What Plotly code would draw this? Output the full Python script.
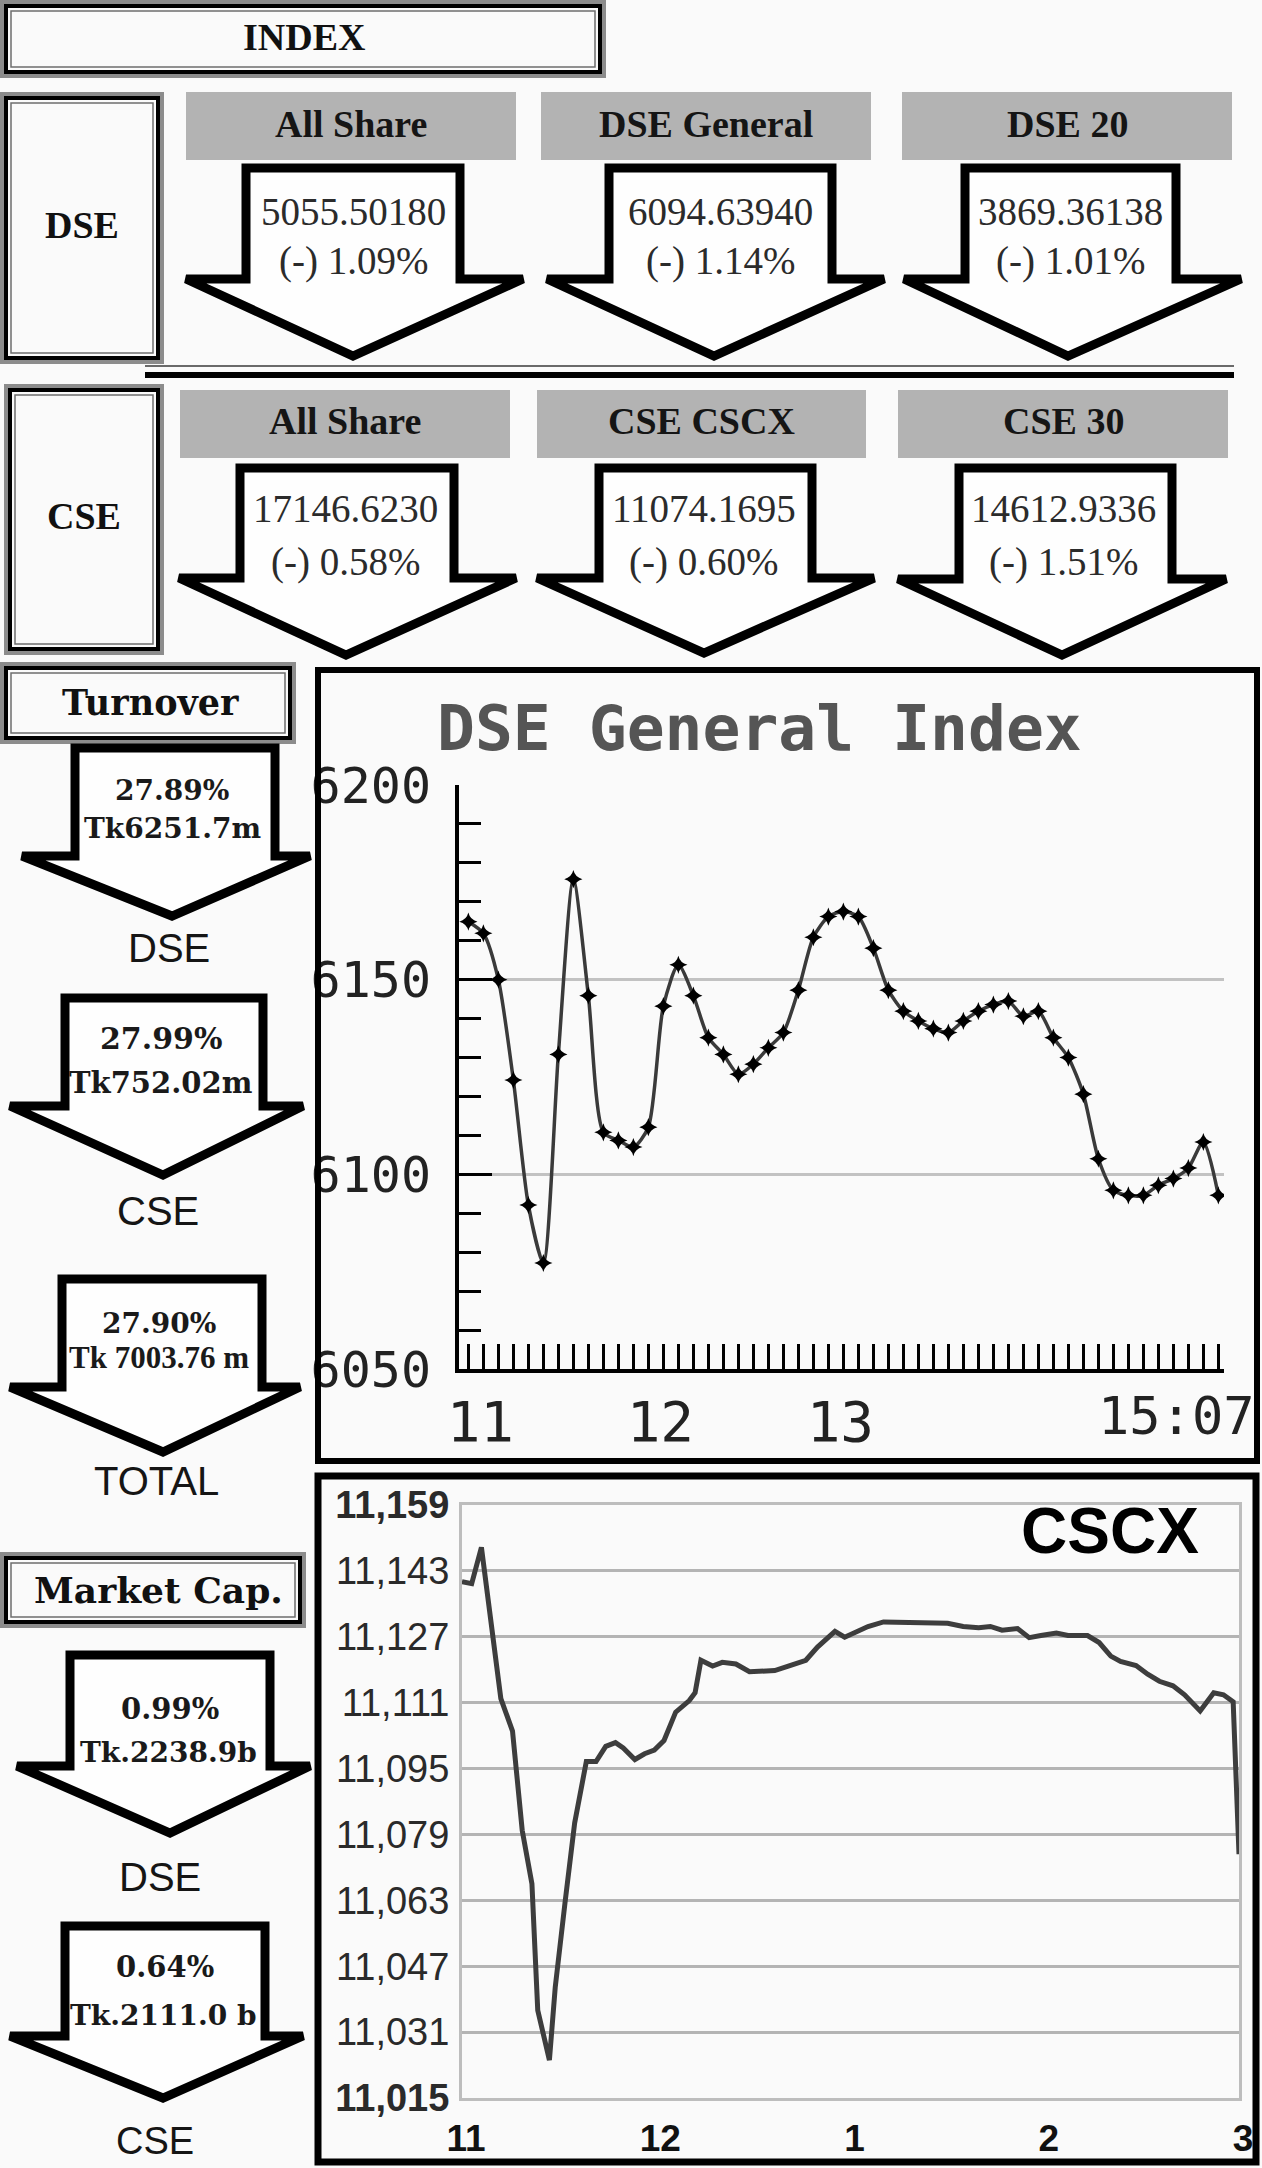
import plotly.graph_objects as go

W, H = 1262, 2168

# ---------------- data ----------------
dse_index_names = ["All Share", "DSE General", "DSE 20"]
dse_index_values = ["5055.50180", "6094.63940", "3869.36138"]
dse_index_changes = ["(-) 1.09%", "(-) 1.14%", "(-) 1.01%"]

cse_index_names = ["All Share", "CSE CSCX", "CSE 30"]
cse_index_values = ["17146.6230", "11074.1695", "14612.9336"]
cse_index_changes = ["(-) 0.58%", "(-) 0.60%", "(-) 1.51%"]

turnover_labels = ["DSE", "CSE", "TOTAL"]
turnover_pct = ["27.89%", "27.99%", "27.90%"]
turnover_amount = ["Tk6251.7m", "Tk752.02m", "Tk 7003.76 m"]

mcap_labels = ["DSE", "CSE"]
mcap_pct = ["0.99%", "0.64%"]
mcap_amount = ["Tk.2238.9b", "Tk.2111.0 b"]

dse_times = ["11:00", "11:05", "11:10", "11:15", "11:20", "11:25", "11:30", "11:35", "11:40", "11:45",
             "11:50", "11:55", "12:00", "12:05", "12:10", "12:15", "12:20", "12:25", "12:30", "12:35",
             "12:40", "12:45", "12:50", "12:55", "13:00", "13:05", "13:10", "13:15", "13:20", "13:25",
             "13:30", "13:35", "13:40", "13:45", "13:50", "13:55", "14:00", "14:05", "14:10", "14:15",
             "14:20", "14:25", "14:30", "14:35", "14:40", "14:45", "14:50", "14:55", "15:00", "15:05",
             "15:10"]
dse_values = [6164.9, 6161.9, 6150.0, 6124.2, 6092.1, 6077.2, 6130.8, 6175.8, 6145.9, 6110.8,
              6108.7, 6107.0, 6112.1, 6143.2, 6153.8, 6145.9, 6135.1, 6130.8, 6125.7, 6128.3,
              6132.5, 6136.4, 6147.3, 6160.9, 6166.2, 6167.5, 6166.2, 6158.1, 6147.3, 6141.9,
              6139.4, 6137.4, 6136.4, 6139.4, 6141.9, 6143.6, 6144.5, 6140.6, 6141.9, 6135.1,
              6130.0, 6120.6, 6104.0, 6095.9, 6094.6, 6094.6, 6097.2, 6098.9, 6101.6, 6108.3,
              6094.6]
dse_y_ticks = [6050, 6100, 6150, 6200]
dse_x_tick_vals = [11, 12, 13]
dse_x_tick_text = ["11", "12", "13"]
dse_stamp = "15:07"
dse_title = "DSE General Index"

cscx_hours = [11.00, 11.05, 11.10, 11.14, 11.20, 11.26, 11.31, 11.36, 11.39, 11.45,
              11.48, 11.53, 11.58, 11.64, 11.69, 11.74, 11.79, 11.83, 11.89, 11.94,
              11.99, 12.04, 12.10, 12.17, 12.20, 12.23, 12.29, 12.34, 12.41, 12.48,
              12.54, 12.61, 12.68, 12.77, 12.83, 12.92, 12.97, 13.02, 13.09, 13.17,
              13.23, 13.31, 13.40, 13.50, 13.58, 13.66, 13.72, 13.78, 13.86, 13.92,
              13.98, 14.06, 14.12, 14.22, 14.28, 14.34, 14.39, 14.47, 14.53, 14.59,
              14.66, 14.72, 14.80, 14.87, 14.92, 14.97, 15.00]
cscx_values = [11140.4, 11139.9, 11148.7, 11134.8, 11112.0, 11104.1, 11080.0, 11067.0, 11036.3, 11024.2,
               11041.9, 11062.3, 11081.8, 11096.7, 11096.7, 11100.4, 11101.3, 11100.0, 11097.2, 11098.6,
               11099.5, 11101.8, 11108.7, 11111.5, 11113.4, 11121.3, 11119.9, 11120.8, 11120.4, 11118.5,
               11118.7, 11118.8, 11119.9, 11121.3, 11124.5, 11128.3, 11126.9, 11128.1, 11129.5, 11130.6,
               11130.6, 11130.3, 11130.3, 11130.3, 11129.5, 11129.2, 11129.5, 11128.6, 11129.0, 11126.8,
               11127.3, 11127.9, 11127.3, 11127.3, 11125.6, 11122.3, 11121.0, 11120.0, 11117.9, 11116.2,
               11115.1, 11112.9, 11109.0, 11113.4, 11112.9, 11111.2, 11074.2]
cscx_y_tick_vals = [11015, 11031, 11047, 11063, 11079, 11095, 11111, 11127, 11143, 11159]
cscx_y_tick_text = ["<b>11,015</b>", "11,031", "11,047", "11,063", "11,079", "11,095",
                    "11,111", "11,127", "11,143", "<b>11,159</b>"]
cscx_x_tick_vals = [11, 12, 13, 14, 15]
cscx_x_tick_text = ["11", "12", "1", "2", "3"]
cscx_title = "CSCX"

# ---------------- helpers ----------------
def px(x):
    return x / W


def py(y):
    return 1 - y / H


fig = go.Figure()
shapes = []
annotations = []


def rect(x0, y0, x1, y1, color, width, fill=None):
    d = dict(type="rect", xref="paper", yref="paper",
             x0=px(x0), x1=px(x1), y0=py(y1), y1=py(y0),
             line=dict(color=color, width=width))
    d["fillcolor"] = fill if fill else "rgba(0,0,0,0)"
    shapes.append(d)


def dbl_box(x0, y0, x1, y1):
    rect(x0 + 2, y0 + 2, x1 - 2, y1 - 2, "#8c8c8c", 4)
    rect(x0 + 6, y0 + 6, x1 - 6, y1 - 6, "#000000", 4)
    rect(x0 + 11, y0 + 11, x1 - 11, y1 - 11, "#6e6e6e", 1.5)


def hline(x0, x1, y, color, width):
    shapes.append(dict(type="line", xref="paper", yref="paper",
                       x0=px(x0), x1=px(x1), y0=py(y), y1=py(y),
                       line=dict(color=color, width=width)))


def arrow(a):
    pts = [(a["sl"], a["top"]), (a["sr"], a["top"]), (a["sr"], a["sh"]), (a["shr"], a["sh"]),
           (a["tx"], a["ty"]), (a["shl"], a["sh"]), (a["sl"], a["sh"])]
    path = "M " + " L ".join(f"{px(x):.5f},{py(y):.5f}" for x, y in pts) + " Z"
    shapes.append(dict(type="path", xref="paper", yref="paper", path=path,
                       fillcolor="#fefefe", line=dict(color="#000000", width=9)))


def text(x, y, s, size, family, color="#111111", weight="normal"):
    annotations.append(dict(x=px(x), y=py(y), xref="paper", yref="paper", text=s,
                            showarrow=False, xanchor="center", yanchor="middle",
                            font=dict(size=size, family=family, color=color, weight=weight)))


SERIF = "Liberation Serif, Times New Roman, serif"
DSERIF = "DejaVu Serif, serif"
SANS = "Liberation Sans, Arial, sans-serif"
MONO = "DejaVu Sans Mono, monospace"

# ---------------- INDEX header ----------------
dbl_box(0, 0, 606, 78)
text(304, 37, "INDEX", 38, SERIF, "#111111", "bold")

# ---------------- DSE row ----------------
dbl_box(0, 92, 164, 364)
text(82, 225, "DSE", 38, SERIF, "#111111", "bold")

row1_headers = [(186, 516), (541, 871), (902, 1232)]
row1_arrows = [
    dict(sl=246, sr=460, top=168, sh=279, shl=186, shr=523, tx=353, ty=356),
    dict(sl=609, sr=832, top=168, sh=279, shl=547, shr=884, tx=714, ty=356),
    dict(sl=965, sr=1176, top=168, sh=279, shl=904, shr=1241, tx=1068, ty=356),
]
for i, (hx0, hx1) in enumerate(row1_headers):
    rect(hx0, 92, hx1, 160, "#b3b3b3", 0, fill="#b3b3b3")
    text((hx0 + hx1) / 2, 124, dse_index_names[i], 38, SERIF, "#151515", "bold")
for i, a in enumerate(row1_arrows):
    arrow(a)
    cx = (a["sl"] + a["sr"]) / 2
    text(cx, 211, dse_index_values[i], 39, SERIF, "#2b2b2b")
    text(cx, 261, dse_index_changes[i], 39, SERIF, "#2b2b2b")

# separator double line
hline(145, 1234, 366, "#6a6a6a", 2)
hline(145, 1234, 375, "#000000", 6)

# ---------------- CSE row ----------------
dbl_box(4, 384, 164, 655)
text(84, 516, "CSE", 38, SERIF, "#111111", "bold")

row2_headers = [(180, 510), (537, 866), (898, 1228)]
row2_arrows = [
    dict(sl=240, sr=454, top=468, sh=578, shl=179, shr=516, tx=346, ty=655),
    dict(sl=599, sr=812, top=468, sh=578, shl=537, shr=874, tx=704, ty=653),
    dict(sl=959, sr=1172, top=468, sh=579, shl=898, shr=1226, tx=1062, ty=655),
]
for i, (hx0, hx1) in enumerate(row2_headers):
    rect(hx0, 390, hx1, 458, "#b3b3b3", 0, fill="#b3b3b3")
    text((hx0 + hx1) / 2, 421, cse_index_names[i], 38, SERIF, "#151515", "bold")
for i, a in enumerate(row2_arrows):
    arrow(a)
    cx = (a["sl"] + a["sr"]) / 2
    text(cx - 2, 508, cse_index_values[i], 39, SERIF, "#2b2b2b")
    text(cx - 2, 562, cse_index_changes[i], 39, SERIF, "#2b2b2b")

# ---------------- Turnover column ----------------
dbl_box(0, 662, 296, 744)
text(150, 702, "Turnover", 35, DSERIF, "#111111", "bold")

turn_arrows = [
    dict(sl=75, sr=275, top=748, sh=856, shl=22, shr=310, tx=172, ty=916),
    dict(sl=65, sr=263, top=998, sh=1106, shl=10, shr=303, tx=163, ty=1175),
    dict(sl=62, sr=262, top=1279, sh=1387, shl=10, shr=300, tx=163, ty=1452),
]
turn_text_y = [(790, 828), (1038, 1083), (1323, 1357)]
turn_label_y = [948, 1211, 1481]
turn_fonts = [(DSERIF, 28, DSERIF, 28), (DSERIF, 30, DSERIF, 29), (DSERIF, 28, SERIF, 31)]
for i, a in enumerate(turn_arrows):
    arrow(a)
    cx = (a["sl"] + a["sr"]) / 2
    f1, s1, f2, s2 = turn_fonts[i]
    text(cx - 3, turn_text_y[i][0], turnover_pct[i], s1, f1, "#1a1a1a", "bold")
    text(cx - 3, turn_text_y[i][1], turnover_amount[i], s2, f2, "#1a1a1a", "bold")
    text(cx - 6, turn_label_y[i], turnover_labels[i], 40, SANS, "#151515")

# ---------------- Market cap column ----------------
dbl_box(0, 1552, 306, 1628)
text(158, 1590, "Market Cap.", 36, DSERIF, "#111111", "bold")

mcap_arrows = [
    dict(sl=70, sr=270, top=1655, sh=1766, shl=17, shr=310, tx=170, ty=1833),
    dict(sl=65, sr=265, top=1926, sh=2036, shl=10, shr=303, tx=163, ty=2098),
]
mcap_text_y = [(1709, 1752), (1967, 2015)]
mcap_label_y = [1877, 2141]
mcap_label_size = [40, 38]
for i, a in enumerate(mcap_arrows):
    arrow(a)
    cx = (a["sl"] + a["sr"]) / 2
    text(cx, mcap_text_y[i][0], mcap_pct[i], 29, DSERIF, "#1a1a1a", "bold")
    text(cx - 2, mcap_text_y[i][1], mcap_amount[i], 28, DSERIF, "#1a1a1a", "bold")
    text(cx - 10, mcap_label_y[i], mcap_labels[i], mcap_label_size[i], SANS, "#151515")

# ---------------- chart boxes ----------------
rect(318, 670, 1257, 1461, "#000000", 6)
rect(318, 1476, 1256, 2162, "#000000", 7)

# ---------------- DSE General Index chart ----------------
dse_x = [int(t[:2]) + int(t[3:]) / 60 for t in dse_times]
fig.add_trace(go.Scatter(
    x=dse_x, y=dse_values, mode="lines+markers", xaxis="x", yaxis="y",
    line=dict(color="#3a3a3a", width=3.5, shape="spline", smoothing=0.7),
    marker=dict(symbol="star-diamond", size=13, color="#000000"),
    showlegend=False, hoverinfo="skip"))

text(759, 729, dse_title, 63, MONO, "#555555", "bold")
text(1176, 1416, dse_stamp, 52, MONO, "#222222")

# ---------------- CSCX chart ----------------
fig.add_trace(go.Scatter(
    x=cscx_hours, y=cscx_values, mode="lines", xaxis="x2", yaxis="y2",
    line=dict(color="#3d3d3d", width=5),
    showlegend=False, hoverinfo="skip"))
text(1110, 1531, cscx_title, 64, SANS, "#000000", "bold")

fig.update_layout(
    template="none",
    width=W, height=H, autosize=False,
    margin=dict(l=0, r=0, t=0, b=0, pad=0, autoexpand=False),
    paper_bgcolor="#fafafa", plot_bgcolor="#fafafa",
    shapes=shapes, annotations=annotations,
    xaxis=dict(domain=[px(459), px(1224)], range=[10.948, 15.198], anchor="y", automargin=False,
               showline=True, linecolor="#000000", linewidth=4,
               showgrid=False, zeroline=False,
               tickmode="array", tickvals=dse_x_tick_vals, ticktext=dse_x_tick_text,
               ticks="inside", ticklen=25, tickwidth=3, tickcolor="#000000",
               ticklabelshift=12, ticklabelstandoff=1,
               tickfont=dict(family=MONO, size=56, color="#222222"),
               minor=dict(tickmode="linear", tick0=11, dtick=1 / 12, ticks="inside",
                          ticklen=25, tickwidth=3, tickcolor="#000000", showgrid=False)),
    yaxis=dict(domain=[py(1369), py(785)], range=[6050, 6200], anchor="x", automargin=False,
               showline=True, linecolor="#000000", linewidth=4,
               showgrid=True, gridcolor="#c2c2c2", gridwidth=3, zeroline=False,
               tickmode="array", tickvals=dse_y_ticks, ticktext=[str(v) for v in dse_y_ticks],
               ticks="inside", ticklen=33, tickwidth=3, tickcolor="#000000",
               ticklabelstandoff=14,
               tickfont=dict(family=MONO, size=50, color="#222222"),
               minor=dict(tickmode="linear", tick0=6050, dtick=10, ticks="inside",
                          ticklen=22, tickwidth=3, tickcolor="#000000", showgrid=False)),
    xaxis2=dict(domain=[px(462), px(1239)], range=[11, 15], anchor="y2", automargin=False,
                showline=True, mirror=True, linecolor="#bdbdbd", linewidth=3,
                showgrid=False, zeroline=False,
                tickmode="array", tickvals=cscx_x_tick_vals, ticktext=cscx_x_tick_text,
                ticks="", ticklabelshift=4, ticklabelstandoff=6,
                tickfont=dict(family=SANS, size=37, color="#111111", weight="bold")),
    yaxis2=dict(domain=[py(2098), py(1505)], range=[11015, 11159], anchor="x2", automargin=False,
                showline=True, mirror=True, linecolor="#bdbdbd", linewidth=3,
                showgrid=True, gridcolor="#b4b4b4", gridwidth=3, zeroline=False,
                tickmode="array", tickvals=cscx_y_tick_vals, ticktext=cscx_y_tick_text,
                ticks="", ticklabelstandoff=2,
                tickfont=dict(family=SANS, size=38, color="#2a2a2a")),
)

fig.write_html("out.html", config={"displayModeBar": False},
               post_script="document.body.style.margin='0';document.body.style.overflow='hidden';")
